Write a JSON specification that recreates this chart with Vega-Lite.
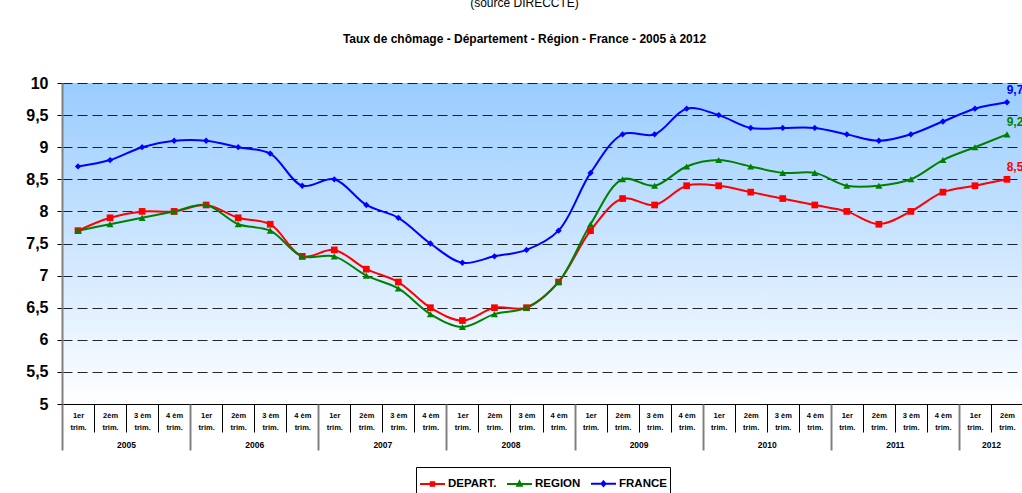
{
  "$schema": "https://vega.github.io/schema/vega-lite/v6.json",
  "width": 961,
  "height": 321,
  "autosize": {"type": "none"},
  "padding": {"left": 62, "top": 83, "right": 0, "bottom": 89},
  "background": "white",
  "title": {
    "text": "(source DIRECCTE)",
    "subtitle": "Taux de chômage - Département - Région - France -  2005 à 2012",
    "anchor": "middle",
    "dx": -18,
    "offset": 29,
    "font": "Liberation Sans",
    "fontSize": 12,
    "fontWeight": "normal",
    "color": "#000000",
    "subtitleFont": "Liberation Sans",
    "subtitleFontSize": 12,
    "subtitleFontWeight": "bold",
    "subtitleColor": "#000000",
    "subtitlePadding": 24
  },
  "config": {
    "locale": {"number": {"decimal": ",", "thousands": " ", "grouping": [3], "currency": ["", " €"]}},
    "view": {
      "stroke": null,
      "fill": {
        "gradient": "linear",
        "x1": 0, "y1": 0, "x2": 0, "y2": 1,
        "stops": [
          {"offset": 0, "color": "#99CCFF"},
          {"offset": 1, "color": "#FFFFFF"}
        ]
      }
    },
    "legend": {"layout": {"bottom": {"anchor": "middle"}}}
  },
  "data": {
    "values": [
      {"t":0,"s":"DEPART.","v":7.7},{"t":1,"s":"DEPART.","v":7.9},{"t":2,"s":"DEPART.","v":8.0},{"t":3,"s":"DEPART.","v":8.0},
      {"t":4,"s":"DEPART.","v":8.1},{"t":5,"s":"DEPART.","v":7.9},{"t":6,"s":"DEPART.","v":7.8},{"t":7,"s":"DEPART.","v":7.3},
      {"t":8,"s":"DEPART.","v":7.4},{"t":9,"s":"DEPART.","v":7.1},{"t":10,"s":"DEPART.","v":6.9},{"t":11,"s":"DEPART.","v":6.5},
      {"t":12,"s":"DEPART.","v":6.3},{"t":13,"s":"DEPART.","v":6.5},{"t":14,"s":"DEPART.","v":6.5},{"t":15,"s":"DEPART.","v":6.9},
      {"t":16,"s":"DEPART.","v":7.7},{"t":17,"s":"DEPART.","v":8.2},{"t":18,"s":"DEPART.","v":8.1},{"t":19,"s":"DEPART.","v":8.4},
      {"t":20,"s":"DEPART.","v":8.4},{"t":21,"s":"DEPART.","v":8.3},{"t":22,"s":"DEPART.","v":8.2},{"t":23,"s":"DEPART.","v":8.1},
      {"t":24,"s":"DEPART.","v":8.0},{"t":25,"s":"DEPART.","v":7.8},{"t":26,"s":"DEPART.","v":8.0},{"t":27,"s":"DEPART.","v":8.3},
      {"t":28,"s":"DEPART.","v":8.4},{"t":29,"s":"DEPART.","v":8.5},
      {"t":0,"s":"REGION","v":7.7},{"t":1,"s":"REGION","v":7.8},{"t":2,"s":"REGION","v":7.9},{"t":3,"s":"REGION","v":8.0},
      {"t":4,"s":"REGION","v":8.1},{"t":5,"s":"REGION","v":7.8},{"t":6,"s":"REGION","v":7.7},{"t":7,"s":"REGION","v":7.3},
      {"t":8,"s":"REGION","v":7.3},{"t":9,"s":"REGION","v":7.0},{"t":10,"s":"REGION","v":6.8},{"t":11,"s":"REGION","v":6.4},
      {"t":12,"s":"REGION","v":6.2},{"t":13,"s":"REGION","v":6.4},{"t":14,"s":"REGION","v":6.5},{"t":15,"s":"REGION","v":6.9},
      {"t":16,"s":"REGION","v":7.8},{"t":17,"s":"REGION","v":8.5},{"t":18,"s":"REGION","v":8.4},{"t":19,"s":"REGION","v":8.7},
      {"t":20,"s":"REGION","v":8.8},{"t":21,"s":"REGION","v":8.7},{"t":22,"s":"REGION","v":8.6},{"t":23,"s":"REGION","v":8.6},
      {"t":24,"s":"REGION","v":8.4},{"t":25,"s":"REGION","v":8.4},{"t":26,"s":"REGION","v":8.5},{"t":27,"s":"REGION","v":8.8},
      {"t":28,"s":"REGION","v":9.0},{"t":29,"s":"REGION","v":9.2},
      {"t":0,"s":"FRANCE","v":8.7},{"t":1,"s":"FRANCE","v":8.8},{"t":2,"s":"FRANCE","v":9.0},{"t":3,"s":"FRANCE","v":9.1},
      {"t":4,"s":"FRANCE","v":9.1},{"t":5,"s":"FRANCE","v":9.0},{"t":6,"s":"FRANCE","v":8.9},{"t":7,"s":"FRANCE","v":8.4},
      {"t":8,"s":"FRANCE","v":8.5},{"t":9,"s":"FRANCE","v":8.1},{"t":10,"s":"FRANCE","v":7.9},{"t":11,"s":"FRANCE","v":7.5},
      {"t":12,"s":"FRANCE","v":7.2},{"t":13,"s":"FRANCE","v":7.3},{"t":14,"s":"FRANCE","v":7.4},{"t":15,"s":"FRANCE","v":7.7},
      {"t":16,"s":"FRANCE","v":8.6},{"t":17,"s":"FRANCE","v":9.2},{"t":18,"s":"FRANCE","v":9.2},{"t":19,"s":"FRANCE","v":9.6},
      {"t":20,"s":"FRANCE","v":9.5},{"t":21,"s":"FRANCE","v":9.3},{"t":22,"s":"FRANCE","v":9.3},{"t":23,"s":"FRANCE","v":9.3},
      {"t":24,"s":"FRANCE","v":9.2},{"t":25,"s":"FRANCE","v":9.1},{"t":26,"s":"FRANCE","v":9.2},{"t":27,"s":"FRANCE","v":9.4},
      {"t":28,"s":"FRANCE","v":9.6},{"t":29,"s":"FRANCE","v":9.7}
    ]
  },
  "encoding": {
    "y": {
      "field": "v", "type": "quantitative",
      "scale": {"domain": [5, 10], "nice": false, "zero": false},
      "axis": {
        "values": [5,5.5,6,6.5,7,7.5,8,8.5,9,9.5,10],
        "format": "~g",
        "grid": true, "gridDash": [10, 5], "gridColor": "#000000", "gridOpacity": 0.85, "gridWidth": 1,
        "domainColor": "#808080", "domainWidth": 2,
        "tickColor": "#000000", "tickSize": 5,
        "labelFont": "Liberation Sans", "labelFontSize": 16, "labelFontWeight": "bold", "labelColor": "#000000",
        "labelPadding": 9, "labelOverlap": false, "title": null
      }
    }
  },
  "layer": [
    {
      "mark": {"type": "point", "filled": false, "opacity": 0, "strokeWidth": 2},
      "encoding": {
        "x": {"field": "t", "type": "quantitative", "axis": null},
        "color": {
          "field": "s", "type": "nominal",
          "scale": {"domain": ["DEPART.", "REGION", "FRANCE"], "range": ["#FF0000", "#008000", "#0000FF"]},
          "legend": {
            "title": null, "orient": "bottom", "direction": "horizontal",
            "strokeColor": "#000000", "padding": 3, "offset": 16,
            "labelFont": "Liberation Sans", "labelFontSize": 11.5, "labelFontWeight": "bold", "labelColor": "#000000",
            "labelOffset": 2, "columnPadding": 6,
            "symbolSize": 625, "symbolStrokeWidth": 2, "symbolOpacity": 1
          }
        },
        "shape": {
          "field": "s", "type": "nominal",
          "scale": {"domain": ["DEPART.", "REGION", "FRANCE"], "range": ["M-1,0H1M-0.14,-0.14H0.14V0.14H-0.14Z", "M-1,0H1M0,-0.2L0.18,0.14H-0.18Z", "M-1,0H1M0,-0.18L0.16,0L0,0.18L-0.16,0Z"]},
          "legend": {
            "title": null, "orient": "bottom", "direction": "horizontal",
            "strokeColor": "#000000", "padding": 3, "offset": 16,
            "labelFont": "Liberation Sans", "labelFontSize": 11.5, "labelFontWeight": "bold", "labelColor": "#000000",
            "labelOffset": 2, "columnPadding": 6,
            "symbolSize": 625, "symbolStrokeWidth": 2, "symbolOpacity": 1
          }
        }
      }
    },
    {
      "mark": {"type": "line", "interpolate": "catmull-rom", "strokeWidth": 2},
      "encoding": {
        "x": {
          "field": "t", "type": "quantitative",
          "scale": {"domain": [-0.5, 29.5], "nice": false, "zero": false},
          "axis": {
            "orient": "bottom",
            "values": [0,1,2,3,4,5,6,7,8,9,10,11,12,13,14,15,16,17,18,19,20,21,22,23,24,25,26,27,28,29],
            "labelExpr": "[['1er','trim.'],['2èm','trim.'],['3 èm','trim.'],['4 èm','trim.']][datum.value % 4]",
            "ticks": false, "tickSize": 0,
            "domain": true, "domainColor": "#000000", "domainWidth": 1,
            "grid": false,
            "labelFont": "Liberation Sans", "labelFontSize": 7.5, "labelFontWeight": "bold", "labelColor": "#000000",
            "labelPadding": 7, "labelLineHeight": 12, "labelBaseline": "top", "labelAngle": 0,
            "labelOverlap": false, "labelFlush": false, "labelBound": false,
            "title": null
          }
        },
        "stroke": {
          "field": "s", "type": "nominal",
          "scale": {"domain": ["DEPART.", "REGION", "FRANCE"], "range": ["#FF0000", "#008000", "#0000FF"]},
          "legend": null
        }
      }
    },
    {
      "transform": [{"filter": "datum.s === 'DEPART.'"}],
      "mark": {"type": "point", "filled": true, "opacity": 1, "size": 45, "shape": "square", "color": "#FF0000"},
      "encoding": {
        "x": {
          "field": "t", "type": "quantitative",
          "axis": {
            "orient": "bottom",
            "values": [-0.5,0.5,1.5,2.5,3.5,4.5,5.5,6.5,7.5,8.5,9.5,10.5,11.5,12.5,13.5,14.5,15.5,16.5,17.5,18.5,19.5,20.5,21.5,22.5,23.5,24.5,25.5,26.5,27.5,28.5,29.5],
            "labels": false, "domain": false, "grid": false,
            "ticks": true, "tickSize": 28, "tickColor": "#000000", "tickWidth": 1,
            "title": null
          }
        }
      }
    },
    {
      "transform": [{"filter": "datum.s === 'REGION'"}],
      "mark": {"type": "point", "filled": true, "opacity": 1, "size": 50, "shape": "triangle-up", "color": "#008000"},
      "encoding": {
        "x": {"field": "t", "type": "quantitative", "axis": null}
      }
    },
    {
      "transform": [{"filter": "datum.s === 'FRANCE'"}],
      "mark": {"type": "point", "filled": true, "opacity": 1, "size": 40, "shape": "diamond", "color": "#0000FF"},
      "encoding": {
        "x": {"field": "t", "type": "quantitative", "axis": null}
      }
    },
    {
      "transform": [{"filter": "datum.t === 29"}],
      "mark": {"type": "text", "font": "Liberation Sans", "fontSize": 12, "fontWeight": "bold", "dx": 8, "dy": -12, "align": "center", "baseline": "middle"},
      "encoding": {
        "x": {
          "field": "t", "type": "quantitative",
          "axis": {
            "orient": "bottom",
            "values": [-0.5,3.5,7.5,11.5,15.5,19.5,23.5,27.5,29.5],
            "labels": false, "domain": false, "grid": false,
            "ticks": true, "tickSize": 46, "tickColor": "#808080", "tickWidth": 2,
            "title": null
          }
        },
        "text": {"field": "v", "type": "quantitative", "format": ".1f"},
        "fill": {"field": "s", "type": "nominal",
          "scale": {"domain": ["DEPART.", "REGION", "FRANCE"], "range": ["#FF0000", "#008000", "#0000FF"]},
          "legend": null}
      }
    },
    {
      "mark": {"type": "point", "opacity": 0},
      "encoding": {
        "x": {
          "field": "t", "type": "quantitative",
          "axis": {
            "orient": "bottom",
            "values": [1.5,5.5,9.5,13.5,17.5,21.5,25.5,28.5],
            "labelExpr": "'' + (2005 + floor(datum.value / 4))",
            "ticks": false, "tickSize": 0, "domain": false, "grid": false,
            "labelFont": "Liberation Sans", "labelFontSize": 8.5, "labelFontWeight": "bold", "labelColor": "#000000",
            "labelPadding": 36, "labelBaseline": "top", "labelAngle": 0,
            "labelOverlap": false, "labelFlush": false, "labelBound": false,
            "title": null
          }
        }
      }
    }
  ],
  "resolve": {"axis": {"x": "independent"}}
}
